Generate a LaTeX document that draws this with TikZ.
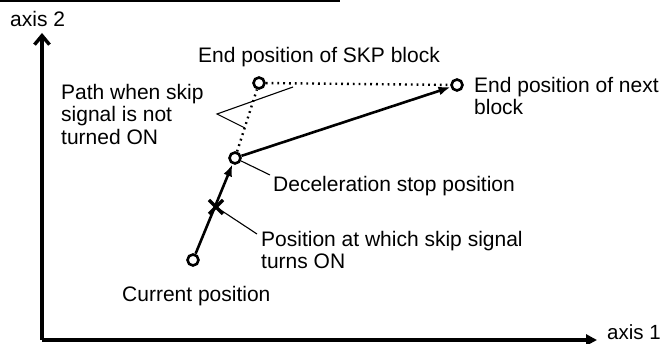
\documentclass[tikz,border=0pt]{standalone}
\usepackage{fontspec}
\setmainfont{Liberation Sans}
\usetikzlibrary{arrows.meta,calc}
\begin{document}
\begin{tikzpicture}[x=1pt,y=-1pt,
  lbl/.style={font=\fontsize{21}{22.5}\selectfont, inner sep=0pt, align=left},
  ptmark/.style={circle, draw, line width=2.6pt, fill=white, minimum size=11pt, inner sep=0pt},
  axisline/.style={line width=3.4pt},
  pathline/.style={line width=2.6pt, -{Latex[length=12pt,width=9pt]}},
  dotline/.style={line width=2.4pt, dash pattern=on 1.8pt off 4pt},
  callout/.style={line width=1.1pt}]
\useasboundingbox (0,0) rectangle (667,344);
\draw[line width=2.4pt] (0,1) -- (340,1);
% axes
\coordinate (O) at (42,340);
\coordinate (Ytop) at (42,33);
\coordinate (Xend) at (597,340);
\draw[axisline, -{Straight Barb[length=9pt,width=15pt,line width=3.4pt]}] (O) -- (Ytop);
\draw[axisline, -{Triangle[length=11pt,width=11pt]}] (O) -- (Xend);
\node[lbl, anchor=west] (ax2) at (10,19) {axis 2};
\node[lbl, anchor=west, font=\fontsize{20.5}{22.5}\selectfont] (ax1) at (607,332) {axis 1};
% positions
\node[ptmark] (cur) at (193,260) {};
\node[ptmark] (dec) at (235,158) {};
\node[ptmark] (skp) at (259,83) {};
\node[ptmark] (nxt) at (457,85) {};
\coordinate (xm) at (216,207);
% dotted path
\draw[dotline] (dec) -- (skp);
\draw[dotline] (skp) -- (nxt);
% solid path
\draw[pathline] (cur) -- (dec);
\draw[pathline] (dec) -- (nxt);
% X mark
\draw[line width=3.2pt] ($(xm)+(-7,-7)$) -- ($(xm)+(7,7)$) ($(xm)+(-7,7)$) -- ($(xm)+(7,-7)$);
% labels
\node[lbl, anchor=west] (lskp) at (198,57) {End position of SKP block};
\node[lbl, anchor=west] (lnxt) at (474,96) {End position of next\\block};
\node[lbl, anchor=west] (lpath) at (61,114) {Path when skip\\signal is not\\turned ON};
\node[lbl, anchor=west] (ldec) at (273,186) {Deceleration stop position};
\node[lbl, anchor=west] (lposx) at (261,250) {Position at which skip signal\\turns ON};
\node[lbl, anchor=west] (lcur) at (122,296) {Current position};
% callouts
\coordinate (apex) at (217,114);
\coordinate (cu) at (293,87);
\coordinate (cl) at (245,128);
\draw[callout] (cu) -- (apex) -- (cl);
\coordinate (dece) at (270,175);
\draw[callout] (dec) -- (dece);
\coordinate (xme) at (257,234);
\draw[callout] (xm) -- (xme);
\end{tikzpicture}
\end{document}
